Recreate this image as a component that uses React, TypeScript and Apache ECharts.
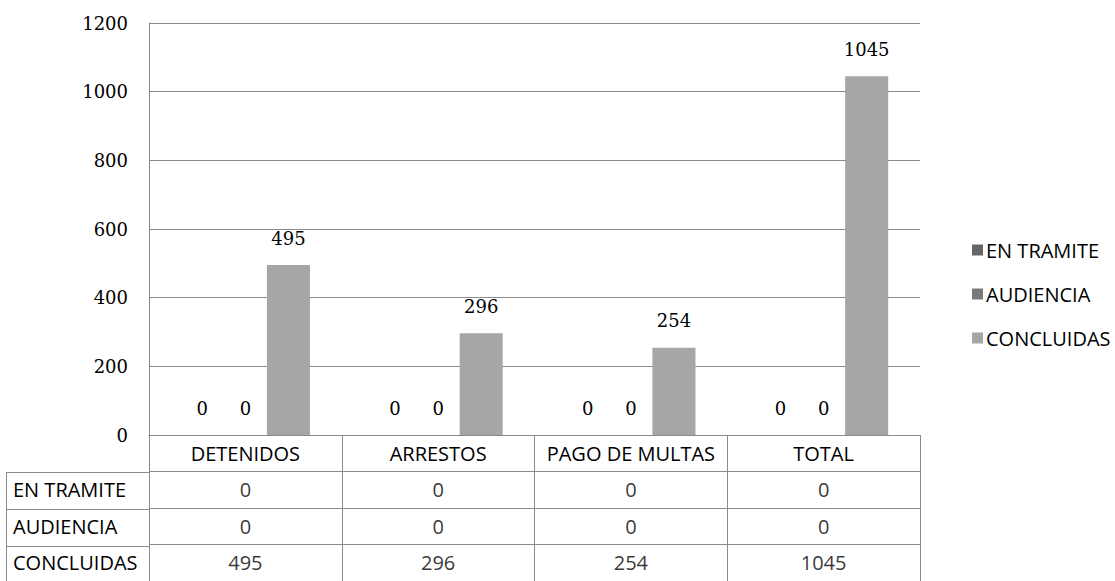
import { useEffect, useRef } from "react";
import * as echarts from "echarts";

// ---- data ----
const categories = ["DETENIDOS", "ARRESTOS", "PAGO DE MULTAS", "TOTAL"];
const seriesNames = ["EN TRAMITE", "AUDIENCIA", "CONCLUIDAS"];
const enTramite = [0, 0, 0, 0];
const audiencia = [0, 0, 0, 0];
const concluidas = [495, 296, 254, 1045];
const yTickMin = 0;
const yTickMax = 1200;
const yTickStep = 200;

// ---- styles / layout ----
const seriesColors = ["#666666", "#7a7a7a", "#a6a6a6"];
const LINE = "#8a8a8a";
const SANS = "'Open Sans', 'Noto Sans', sans-serif";
const SERIF = "'DejaVu Serif', serif";
const PLOT_LEFT = 149;
const PLOT_WIDTH = 771;
const PLOT_TOP = 23;
const PLOT_HEIGHT = 412;
const TABLE_TOP = PLOT_TOP + PLOT_HEIGHT;
const TABLE_HEIGHT = 148;
const TABLE_LEFT_EDGE = 6.5;

export default function App() {
  const ref = useRef<HTMLDivElement>(null);

  useEffect(() => {
    if (!ref.current) return;
    const chart = echarts.init(ref.current, null, { renderer: "svg" });

    const seriesValues = [enTramite, audiencia, concluidas];
    const rowNames = ["", ...seriesNames];
    const rowCount = rowNames.length;
    const rowH = TABLE_HEIGHT / rowCount;

    const tableData: any[] = [];
    seriesNames.forEach((name, s) => {
      seriesValues[s].forEach((v, i) => {
        tableData.push([categories[i], name, v]);
      });
    });

    const leftColLines: any[] = [];
    leftColLines.push({
      type: "line",
      shape: {
        x1: TABLE_LEFT_EDGE,
        y1: TABLE_TOP + rowH,
        x2: TABLE_LEFT_EDGE,
        y2: TABLE_TOP + TABLE_HEIGHT + 2,
      },
      style: { stroke: LINE, lineWidth: 1 },
    });
    for (let k = 1; k < rowCount; k++) {
      const y = Math.round(TABLE_TOP + rowH * k) + 0.5;
      leftColLines.push({
        type: "line",
        shape: { x1: TABLE_LEFT_EDGE, y1: y, x2: PLOT_LEFT, y2: y },
        style: { stroke: LINE, lineWidth: 1 },
      });
    }

    const barLabel = {
      show: true,
      position: "top",
      distance: 18,
      fontFamily: SERIF,
      fontSize: 18,
      color: "#000",
    };

    chart.setOption({
      animation: false,
      backgroundColor: "#ffffff",
      grid: [
        { left: PLOT_LEFT, width: PLOT_WIDTH, top: PLOT_TOP, height: PLOT_HEIGHT },
        { left: PLOT_LEFT, width: PLOT_WIDTH, top: TABLE_TOP, height: TABLE_HEIGHT },
      ],
      legend: {
        orient: "vertical",
        left: 967,
        top: 235,
        itemWidth: 11,
        itemHeight: 11,
        itemGap: 24,
        icon: "rect",
        data: seriesNames,
        textStyle: {
          fontFamily: SANS,
          fontSize: 20,
          lineHeight: 20,
          color: "#000",
          padding: [0, 0, 0, -2],
        },
      },
      xAxis: [
        {
          type: "category",
          gridIndex: 0,
          data: categories,
          axisLine: { show: true, lineStyle: { color: LINE } },
          axisTick: { show: false },
          axisLabel: {
            margin: 8,
            fontFamily: SANS,
            fontSize: 20,
            color: "#000",
            interval: 0,
          },
          splitLine: { show: false },
        },
        {
          type: "category",
          gridIndex: 1,
          data: categories,
          axisLine: { show: false },
          axisTick: { show: false },
          axisLabel: { show: false },
          splitLine: { show: true, interval: 0, lineStyle: { color: LINE } },
        },
      ],
      yAxis: [
        {
          type: "value",
          gridIndex: 0,
          min: yTickMin,
          max: yTickMax,
          interval: yTickStep,
          axisLine: { show: true, lineStyle: { color: LINE } },
          axisTick: { show: false },
          axisLabel: {
            margin: 21,
            fontFamily: SERIF,
            fontSize: 18,
            color: "#000",
            formatter: (v: number) => String(v),
          },
          splitLine: { show: true, lineStyle: { color: LINE } },
        },
        {
          type: "category",
          gridIndex: 1,
          inverse: true,
          data: rowNames,
          axisLine: { show: true, lineStyle: { color: LINE } },
          axisTick: { show: false },
          axisLabel: {
            align: "left",
            margin: 136,
            fontFamily: SANS,
            fontSize: 20,
            color: "#000",
            interval: 0,
          },
          splitLine: { show: true, interval: 0, lineStyle: { color: LINE } },
        },
      ],
      series: [
        ...seriesNames.map((name, s) => ({
          type: "bar",
          name,
          xAxisIndex: 0,
          yAxisIndex: 0,
          data: seriesValues[s],
          barGap: "0%",
          barCategoryGap: "33%",
          itemStyle: { color: seriesColors[s] },
          label: barLabel,
        })),
        {
          type: "scatter",
          name: "tabla",
          xAxisIndex: 1,
          yAxisIndex: 1,
          data: tableData,
          symbolSize: 1,
          itemStyle: { color: "rgba(0,0,0,0)" },
          label: {
            show: true,
            position: "inside",
            formatter: (p: any) => String(p.value[2]),
            fontFamily: SANS,
            fontSize: 20,
            color: "#000",
          },
          silent: true,
        },
      ],
      graphic: leftColLines,
    });

    return () => chart.dispose();
  }, []);

  return (
    <div
      ref={ref}
      style={{ position: "fixed", left: 0, top: 0, width: 1115, height: 581 }}
    />
  );
}
